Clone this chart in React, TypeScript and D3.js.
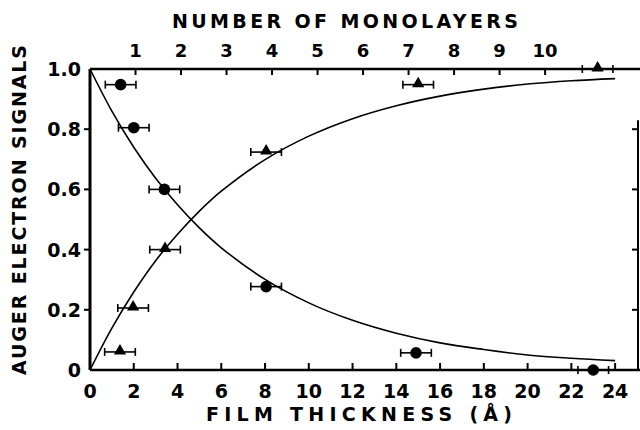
import React from 'react';
import * as d3 from 'd3';

// measured points (Å, signal) with horizontal error bars
const substrateX = [1.4, 2.0, 3.4, 8.05, 14.9, 23.0];
const substrateY = [0.948, 0.805, 0.6, 0.277, 0.057, 0.0];
const overlayerX = [1.37, 1.97, 3.43, 8.05, 15.0, 23.2];
const overlayerY = [0.06, 0.206, 0.4, 0.724, 0.948, 1.0];
const xErr = [0.7, 0.7, 0.7, 0.7, 0.7, 0.7];

// fitted curves
const curveX = [0, 1, 2, 3, 4, 5, 6, 8, 10, 12, 14, 16, 18, 20, 22, 24];
const decayY = [1.0, 0.86, 0.74, 0.637, 0.549, 0.472, 0.406, 0.301, 0.223, 0.165, 0.122, 0.09, 0.068, 0.05, 0.039, 0.031];
const growthY = [0.0, 0.139, 0.259, 0.363, 0.451, 0.528, 0.594, 0.699, 0.777, 0.835, 0.878, 0.91, 0.933, 0.95, 0.961, 0.968];

const bottomTicks = [0, 2, 4, 6, 8, 10, 12, 14, 16, 18, 20, 22, 24];
const leftTicks = [0, 0.2, 0.4, 0.6, 0.8, 1.0];
const leftTickLabels = ['0', '0.2', '0.4', '0.6', '0.8', '1.0'];
const monolayerTicks = [1, 2, 3, 4, 5, 6, 7, 8, 9, 10];
const angstromPerLayer = 2.08;

const font = "'DejaVu Sans', sans-serif";

export default function App() {
  const x = d3.scaleLinear().domain([0, 25]).range([90, 637]);
  const y = d3.scaleLinear().domain([0, 1]).range([370, 69]);
  const xTop = d3.scaleLinear().domain([0, 1]).range([x(0), x(angstromPerLayer)]);

  const line = d3.line<number>()
    .x((_, i) => x(curveX[i]))
    .y(d => y(d))
    .curve(d3.curveCatmullRom.alpha(0.5));

  const errBar = (cx: number, cy: number, e: number, key: string) => (
    <g key={key} stroke="#000" strokeWidth={1.6}>
      <line x1={x(cx - e)} x2={x(cx + e)} y1={y(cy)} y2={y(cy)} />
      <line x1={x(cx - e)} x2={x(cx - e)} y1={y(cy) - 4} y2={y(cy) + 4} />
      <line x1={x(cx + e)} x2={x(cx + e)} y1={y(cy) - 4} y2={y(cy) + 4} />
    </g>
  );

  const tri = d3.symbol(d3.symbolTriangle, 64);

  return (
    <svg width={640} height={430} style={{ position: 'absolute', left: 0, top: 0, background: '#fff' }}>
      <g fontFamily={font} fontWeight="bold" fill="#000">
        <text x={345} y={28} fontSize={19} textAnchor="middle" textLength={346} lengthAdjust="spacing">
          NUMBER OF MONOLAYERS
        </text>
        {monolayerTicks.map(n => (
          <text key={n} x={xTop(n)} y={57} fontSize={18} textAnchor="middle">{n}</text>
        ))}
        {bottomTicks.map(t => (
          <text key={t} x={x(t)} y={398} fontSize={19} textAnchor="middle">{t}</text>
        ))}
        <text x={359} y={421} fontSize={19} textAnchor="middle" textLength={306} lengthAdjust="spacing">
          FILM THICKNESS (Å)
        </text>
        {leftTicks.map((t, i) => (
          <text key={t} x={81} y={y(t) + 7} fontSize={19} textAnchor="end">{leftTickLabels[i]}</text>
        ))}
        <text transform="translate(26,210) rotate(-90)" fontSize={19} textAnchor="middle" textLength={330} lengthAdjust="spacing">
          AUGER ELECTRON SIGNALS
        </text>
      </g>

      {/* frame */}
      <g stroke="#000" fill="none">
        <line x1={x(0)} x2={x(0)} y1={y(0)} y2={y(1)} strokeWidth={3} />
        <line x1={x(0)} x2={640} y1={y(0)} y2={y(0)} strokeWidth={2.5} />
        <line x1={x(0)} x2={640} y1={y(1)} y2={y(1)} strokeWidth={2.5} />
        <line x1={638} x2={638} y1={y(0)} y2={y(0.83)} strokeWidth={2} />
        {bottomTicks.map(t => (
          <line key={t} x1={x(t)} x2={x(t)} y1={y(0)} y2={y(0) - 7} strokeWidth={2} />
        ))}
        {monolayerTicks.map(n => (
          <line key={n} x1={xTop(n)} x2={xTop(n)} y1={y(1)} y2={y(1) + 6} strokeWidth={2} />
        ))}
        {leftTicks.slice(1, 5).map(t => (
          <line key={t} x1={x(0) - 6} x2={x(0)} y1={y(t)} y2={y(t)} strokeWidth={2} />
        ))}
        {leftTicks.slice(1, 5).map(t => (
          <line key={'r' + t} x1={632} x2={638} y1={y(t)} y2={y(t)} strokeWidth={2} />
        ))}
      </g>

      <path d={line(decayY) || ''} fill="none" stroke="#000" strokeWidth={1.6} />
      <path d={line(growthY) || ''} fill="none" stroke="#000" strokeWidth={1.6} />

      {substrateX.map((d, i) => errBar(d, substrateY[i], xErr[i], 's' + i))}
      {overlayerX.map((d, i) => errBar(d, overlayerY[i], xErr[i], 'o' + i))}

      {substrateX.map((d, i) => (
        <circle key={i} cx={x(d)} cy={y(substrateY[i])} r={5.8} fill="#000" />
      ))}
      {overlayerX.map((d, i) => (
        <path key={i} d={tri() || ''} transform={`translate(${x(d)},${y(overlayerY[i]) - 1})`} fill="#000" />
      ))}
    </svg>
  );
}
